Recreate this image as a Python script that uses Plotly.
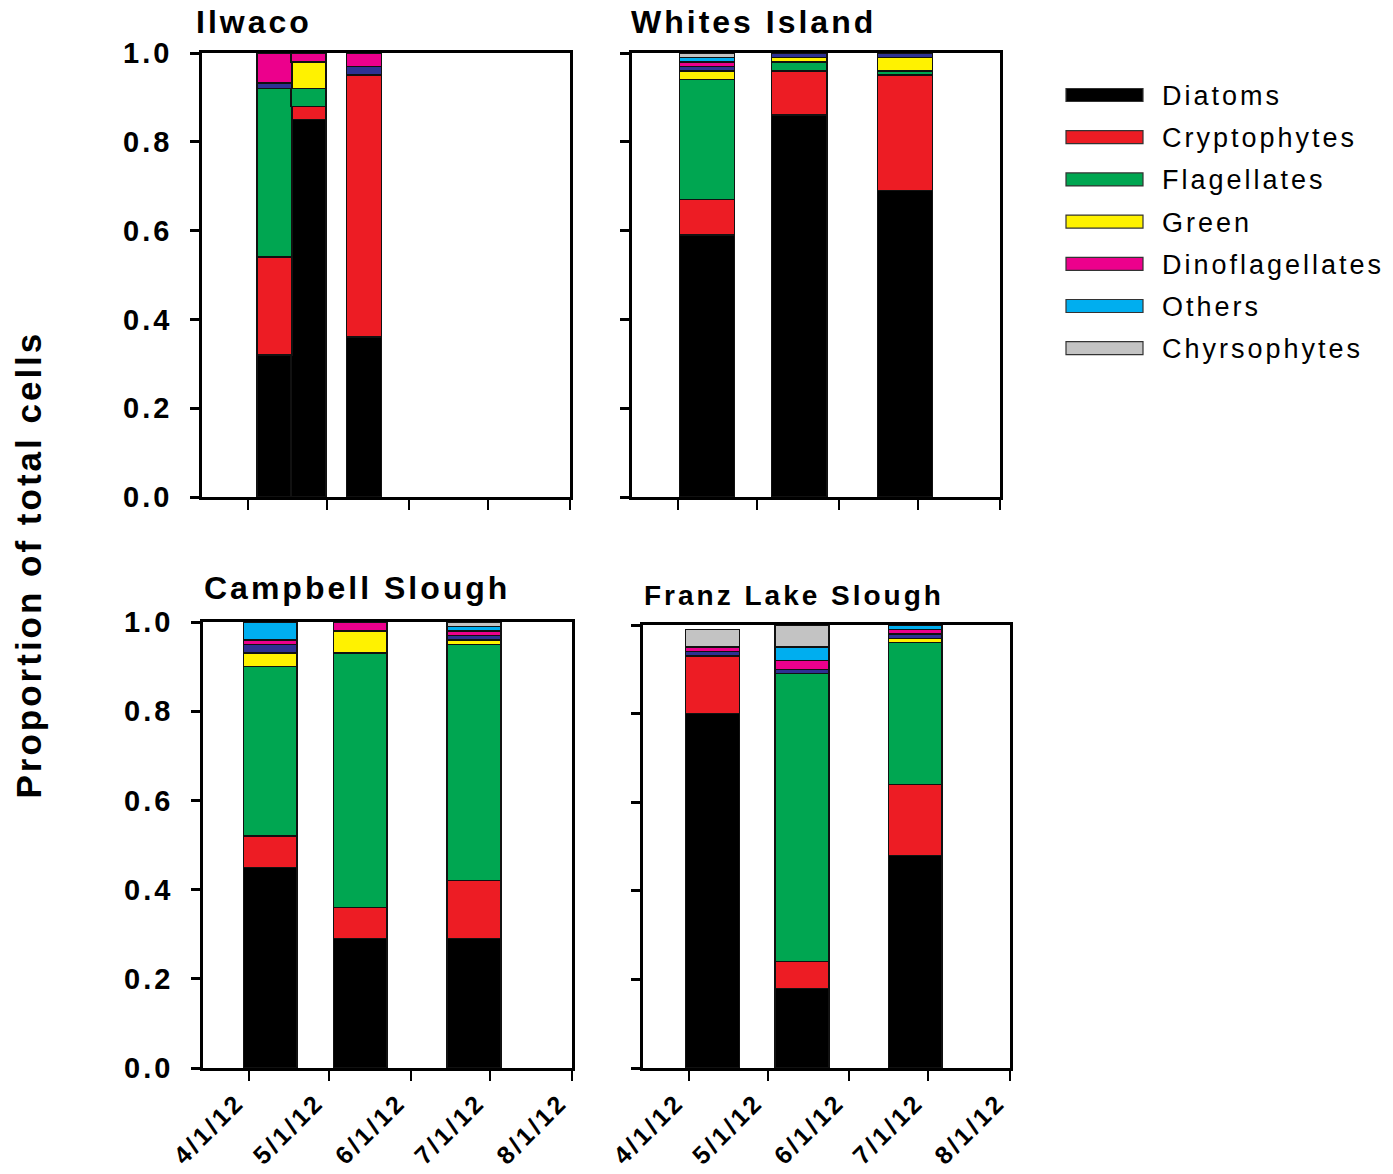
import plotly.graph_objects as go

W, H = 1393, 1174
FONT = "Liberation Sans, Arial, sans-serif"

# Phytoplankton groups in stacking order (bottom to top)
groups = ["Diatoms", "Cryptophytes", "Flagellates", "Green", "Cyanobacteria",
          "Dinoflagellates", "Others", "Chyrsophytes"]
colors = ["#000000", "#ED1C24", "#00A651", "#FFF200", "#2E3192",
          "#EC008C", "#00AEEF", "#C3C3C3"]
legend_groups = ["Diatoms", "Cryptophytes", "Flagellates", "Green",
                 "Dinoflagellates", "Others", "Chyrsophytes"]

tick_dates = ["2012-04-01", "2012-05-01", "2012-06-01", "2012-07-01", "2012-08-01"]
tick_labels = ["4/1/12", "5/1/12", "6/1/12", "7/1/12", "8/1/12"]
y_ticks = [0.0, 0.2, 0.4, 0.6, 0.8, 1.0]

# Proportion of total cells per group, one value per sampling date
ilwaco_dates = ["2012-04-11", "2012-04-24", "2012-05-15"]
ilwaco_props = {
    "Diatoms":         [0.32, 0.85, 0.36],
    "Cryptophytes":    [0.22, 0.03, 0.59],
    "Flagellates":     [0.38, 0.04, 0.00],
    "Green":           [0.00, 0.06, 0.00],
    "Cyanobacteria":   [0.012, 0.00, 0.02],
    "Dinoflagellates": [0.068, 0.02, 0.03],
    "Others":          [0.00, 0.00, 0.00],
    "Chyrsophytes":    [0.00, 0.00, 0.00],
}

whites_dates = ["2012-04-12", "2012-05-17", "2012-06-26"]
whites_props = {
    "Diatoms":         [0.59, 0.86, 0.69],
    "Cryptophytes":    [0.08, 0.10, 0.26],
    "Flagellates":     [0.27, 0.02, 0.01],
    "Green":           [0.02, 0.01, 0.03],
    "Cyanobacteria":   [0.01, 0.01, 0.01],
    "Dinoflagellates": [0.01, 0.00, 0.00],
    "Others":          [0.01, 0.00, 0.00],
    "Chyrsophytes":    [0.01, 0.00, 0.00],
}

campbell_dates = ["2012-04-09", "2012-05-13", "2012-06-25"]
campbell_props = {
    "Diatoms":         [0.45, 0.29, 0.29],
    "Cryptophytes":    [0.07, 0.07, 0.13],
    "Flagellates":     [0.38, 0.57, 0.53],
    "Green":           [0.03, 0.05, 0.01],
    "Cyanobacteria":   [0.02, 0.00, 0.01],
    "Dinoflagellates": [0.01, 0.02, 0.01],
    "Others":          [0.04, 0.00, 0.01],
    "Chyrsophytes":    [0.00, 0.00, 0.01],
}

franz_dates = ["2012-04-10", "2012-05-14", "2012-06-26"]
franz_props = {
    "Diatoms":         [0.80, 0.18, 0.48],
    "Cryptophytes":    [0.13, 0.06, 0.16],
    "Flagellates":     [0.00, 0.65, 0.32],
    "Green":           [0.00, 0.00, 0.01],
    "Cyanobacteria":   [0.01, 0.01, 0.01],
    "Dinoflagellates": [0.01, 0.02, 0.01],
    "Others":          [0.00, 0.03, 0.01],
    "Chyrsophytes":    [0.04, 0.05, 0.00],
}

DAY_MS = 86400000
X_RANGE = ["2012-03-14 14:00", "2012-08-01"]


def px_x(p):
    return p / W


def px_y(p):
    return 1 - p / H


# Panel layout in pixels: plot area box, bar width, title placement
panels = [
    dict(title="Ilwaco", dates=ilwaco_dates, props=ilwaco_props, bar_days=13.3,
         box=(202, 570, 53, 497), ylab=True, xlab=False, tpos=(194, 22), tsize=32),
    dict(title="Whites Island", dates=whites_dates, props=whites_props, bar_days=21,
         box=(632, 1000, 53, 497), ylab=False, xlab=False, tpos=(629, 22), tsize=32),
    dict(title="Campbell Slough", dates=campbell_dates, props=campbell_props, bar_days=20.3,
         box=(203, 572, 622, 1068), ylab=True, xlab=True, tpos=(202, 588), tsize=32),
    dict(title="Franz Lake Slough", dates=franz_dates, props=franz_props, bar_days=20.5,
         box=(643, 1010, 625, 1068), ylab=False, xlab=True, tpos=(642, 596), tsize=28),
]

fig = go.Figure()
layout = dict(
    width=W, height=H,
    margin=dict(l=0, r=0, t=0, b=0, pad=0, autoexpand=False),
    paper_bgcolor="white", plot_bgcolor="white",
    barmode="stack", showlegend=False,
    font=dict(family=FONT, color="black"),
    annotations=[], shapes=[],
)

for i, p in enumerate(panels, start=1):
    xs = "" if i == 1 else str(i)
    xid, yid = "x" + xs, "y" + xs
    for g, c in zip(groups, colors):
        vals = [v if v > 0 else None for v in p["props"][g]]
        fig.add_trace(go.Bar(
            x=p["dates"], y=vals, name=g,
            width=[p["bar_days"] * DAY_MS] * len(p["dates"]),
            marker=dict(color=c, line=dict(color="#111111", width=1.5)),
            xaxis=xid, yaxis=yid, showlegend=False,
        ))
    x0, x1, y0, y1 = p["box"]
    layout["xaxis" + xs] = dict(
        domain=[px_x(x0), px_x(x1)], anchor=yid, type="date", range=X_RANGE,
        tickvals=tick_dates, ticktext=tick_labels, tickangle=-45,
        showticklabels=p["xlab"], ticks="outside", ticklen=10, tickwidth=2,
        tickcolor="black", showline=True, linecolor="black", linewidth=2.5,
        mirror=True, showgrid=False, zeroline=False, automargin=False,
        ticklabelshift=-12, ticklabelstandoff=-3,
        tickfont=dict(family=FONT, size=25, weight="bold"),
    )
    layout["yaxis" + xs] = dict(
        domain=[px_y(y1), px_y(y0)], anchor=xid, range=[0, 1],
        tickvals=y_ticks, tickformat=".1f", showticklabels=p["ylab"],
        ticks="outside", ticklen=9, tickwidth=2.5, tickcolor="black",
        ticklabelstandoff=12, automargin=False,
        showline=True, linecolor="black", linewidth=2.5, mirror=True,
        showgrid=False, zeroline=False,
        tickfont=dict(family=FONT, size=29, weight="bold"),
    )
    # inner half of the crossing y ticks
    layout["yaxis" + str(i + 4)] = dict(
        overlaying=yid, anchor=xid, side="left", range=[0, 1],
        tickvals=y_ticks, showticklabels=False, ticks="inside", ticklen=9,
        tickwidth=2.5, tickcolor="black", showline=False, showgrid=False,
        zeroline=False, automargin=False,
    )
    tx, ty = p["tpos"]
    layout["annotations"].append(dict(
        text=p["title"], x=px_x(tx), y=px_y(ty), xref="paper", yref="paper",
        xanchor="left", yanchor="middle", align="left", showarrow=False,
        font=dict(family=FONT, size=p["tsize"], weight="bold"),
    ))

# shared y-axis title
layout["annotations"].append(dict(
    text="Proportion of total cells", x=px_x(28), y=px_y(565),
    xref="paper", yref="paper", xanchor="center", yanchor="middle",
    textangle=-90, showarrow=False,
    font=dict(family=FONT, size=35, weight="bold"),
))

# legend: wide swatches with labels
legend_colors = [colors[groups.index(g)] for g in legend_groups]
for k, (g, c) in enumerate(zip(legend_groups, legend_colors)):
    cy = 95 + 42.2 * k
    layout["shapes"].append(dict(
        type="rect", xref="paper", yref="paper",
        x0=px_x(1066), x1=px_x(1143), y0=px_y(cy + 6.5), y1=px_y(cy - 6.5),
        fillcolor=c, line=dict(color="#333333", width=1.2),
    ))
    layout["annotations"].append(dict(
        text=g, x=px_x(1160), y=px_y(cy + 1), xref="paper", yref="paper",
        xanchor="left", yanchor="middle", align="left", showarrow=False,
        font=dict(family=FONT, size=27),
    ))

fig.update_layout(**layout)

page_js = (
    "var s=document.createElement('style');"
    "s.textContent='html,body{margin:0;padding:0;overflow:hidden}"
    ".main-svg text{letter-spacing:3px}';"
    "document.head.appendChild(s);"
)
fig.write_html("out.html", post_script=page_js)
